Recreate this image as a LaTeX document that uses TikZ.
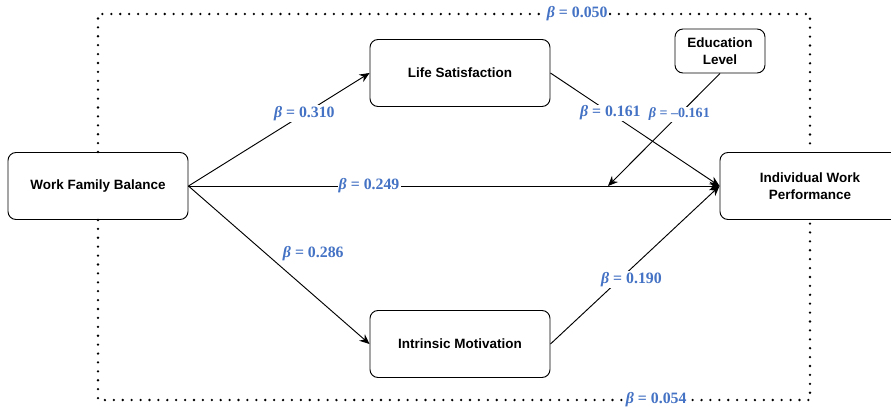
\documentclass[tikz,border=0pt]{standalone}
\usepackage{fontspec}
\setmainfont{Liberation Sans}
\newfontfamily\betafont{Liberation Serif}
\usepackage{tikz}
\usetikzlibrary{arrows.meta,positioning}
\definecolor{coef}{HTML}{4472C4}
\tikzset{
  box/.style={draw=black, line width=0.8pt, rounded corners=0.24cm, minimum width=5.4cm, minimum height=2.01cm, align=center, font=\fontsize{11.5}{14.5}\selectfont\bfseries},
  smallbox/.style={box, minimum width=2.7cm, minimum height=1.32cm},
  arr/.style={draw=black, line width=0.8pt, -{Stealth[length=3mm,width=2.6mm]}},
  dots/.style={draw=black, line width=2.2pt, line cap=round, dash pattern=on 0pt off 7.6pt},
  beta/.style={text=coef, font=\betafont\fontsize{13.5}{15}\selectfont\bfseries, fill=white, inner sep=1pt},
  betas/.style={beta, font=\betafont\fontsize{12}{14}\selectfont\bfseries},
}
\newcommand{\bcoef}[1]{{\itshape β} = #1}

\begin{document}
\begin{tikzpicture}[x=0.03cm, y=-0.03cm]
\useasboundingbox (0,0) rectangle (891,409);
% variables
\node[box] (wfb) at (98,186) {Work Family Balance};
\node[box] (ls) at (460,73) {Life Satisfaction};
\node[box] (im) at (460,344) {Intrinsic Motivation};
\node[box] (iwp) at (810,186) {Individual Work\\Performance};
\node[smallbox] (el) at (720,51) {Education\\Level};
\coordinate (top) at (0,14);
\coordinate (bot) at (0,400);
\coordinate (mod) at (608,186);

% total effects
\draw[dots] (wfb.north) -- (wfb.north |- top) -- node[beta, pos=0.673] {\bcoef{0.050}} (iwp.north |- top) -- (iwp.north);
\draw[dots] (wfb.south) -- (wfb.south |- bot) -- node[beta, pos=0.784] {\bcoef{0.054}} (iwp.south |- bot) -- (iwp.south);

% paths
\draw[arr] (wfb.east) -- node[beta, pos=0.64] {\bcoef{0.310}} (ls.west);
\draw[arr] (wfb.east) -- node[beta, pos=0.43, anchor=west, xshift=0.45cm, fill=none] {\bcoef{0.286}} (im.west);
\draw[arr] (wfb.east) -- node[beta, pos=0.34] {\bcoef{0.249}} (iwp.west);
\draw[arr] (ls.east) -- node[beta, pos=0.354] {\bcoef{0.161}} (iwp.west);
\draw[arr] (im.east) -- node[beta, pos=0.41, xshift=0.35cm] {\bcoef{0.190}} (iwp.west);
\draw[arr] (el.south) -- node[betas, pos=0.363] {\bcoef{–0.161}} (mod);
\end{tikzpicture}
\end{document}
